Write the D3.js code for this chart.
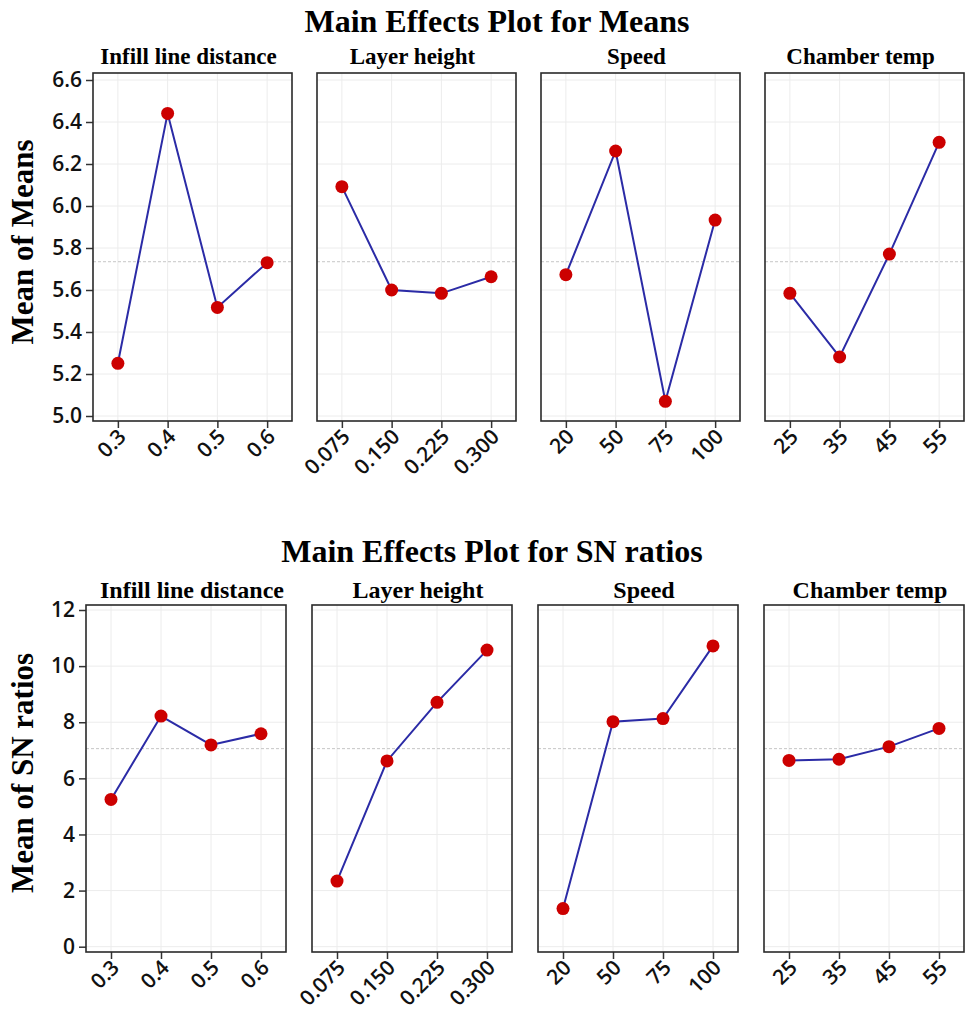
<!DOCTYPE html>
<html>
<head>
<meta charset="utf-8">
<script src="https://cdn.jsdelivr.net/npm/d3@7"></script>
<style>
  body { margin: 0; background: #fff; }
  svg { display: block; }
</style>
</head>
<body>
<div class="js-chart"></div>
<script>
'use strict';

// factors and their levels (same for both plots)
const factorNames = ["Infill line distance", "Layer height", "Speed", "Chamber temp"];
const levelLabels = [
    ["0.3", "0.4", "0.5", "0.6"],
    ["0.075", "0.150", "0.225", "0.300"],
    ["20", "50", "75", "100"],
    ["25", "35", "45", "55"]
];

// mean of means, one array per factor
const meansInfill = [5.251, 6.441, 5.517, 5.730];
const meansLayer = [6.092, 5.600, 5.584, 5.663];
const meansSpeed = [5.673, 6.262, 5.070, 5.933];
const meansChamber = [5.584, 5.281, 5.771, 6.303];
const meansTicks = [5.0, 5.2, 5.4, 5.6, 5.8, 6.0, 6.2, 6.4, 6.6];

// mean of SN ratios, one array per factor
const snInfill = [5.25, 8.22, 7.19, 7.59];
const snLayer = [2.34, 6.62, 8.71, 10.57];
const snSpeed = [1.36, 8.02, 8.13, 10.72];
const snChamber = [6.64, 6.68, 7.13, 7.78];
const snTicks = [0, 2, 4, 6, 8, 10, 12];

const svgWidth = 966;
const svgHeight = 1013;

const lineColor = "#2b2ba6";
const dotColor = "#cc0000";
const serif = "'Liberation Serif', 'Times New Roman', serif";
const sans = "'Open Sans', 'Noto Sans', sans-serif";

let svg = d3.select(".js-chart")
            .append("svg")
            .attr("width", svgWidth)
            .attr("height", svgHeight);

function drawMainEffects(opts) {

    const g = svg.append("g");

    // overall title
    g.append("text")
        .text(opts.title)
        .attr("x", opts.titleX)
        .attr("y", opts.titleY)
        .attr("text-anchor", "middle")
        .attr("font-family", serif)
        .attr("font-weight", "bold")
        .attr("font-size", opts.titleSize + "px")
        .attr("fill", "#000");

    // y axis label
    g.append("text")
        .text(opts.yLabel)
        .attr("transform", `translate(${opts.yLabelX},${opts.yLabelY}) rotate(-90)`)
        .attr("text-anchor", "middle")
        .attr("font-family", serif)
        .attr("font-weight", "bold")
        .attr("font-size", opts.yLabelSize + "px")
        .attr("fill", "#000");

    const yScale = d3.scaleLinear()
                    .domain(opts.yDomain)
                    .range([opts.yBottom, opts.yTop]);

    const grandMean = d3.mean(opts.series.flat());

    opts.series.forEach(function(values, i) {

        const left = opts.panelLefts[i];
        const right = left + opts.panelWidth;

        const xScale = d3.scalePoint()
                        .domain(levelLabels[i])
                        .range([left, right])
                        .padding(0.5);

        const panel = g.append("g");

        // panel title
        panel.append("text")
            .text(factorNames[i])
            .attr("x", (left + right) / 2 + opts.panelTitleShift)
            .attr("y", opts.panelTitleY)
            .attr("text-anchor", "middle")
            .attr("font-family", serif)
            .attr("font-weight", "bold")
            .attr("font-size", opts.panelTitleSize + "px")
            .attr("fill", "#000");

        // grid lines
        panel.selectAll("line.vgrid")
            .data(levelLabels[i])
            .enter()
            .append("line")
            .attr("x1", d => xScale(d))
            .attr("x2", d => xScale(d))
            .attr("y1", opts.panelTop)
            .attr("y2", opts.panelBottom)
            .attr("stroke", "#ececec")
            .attr("stroke-width", 1);

        panel.selectAll("line.hgrid")
            .data(opts.yTicks)
            .enter()
            .append("line")
            .attr("x1", left)
            .attr("x2", right)
            .attr("y1", d => yScale(d))
            .attr("y2", d => yScale(d))
            .attr("stroke", "#ececec")
            .attr("stroke-width", 1);

        // grand mean reference line
        panel.append("line")
            .attr("x1", left)
            .attr("x2", right)
            .attr("y1", yScale(grandMean))
            .attr("y2", yScale(grandMean))
            .attr("stroke", "#b8b8b8")
            .attr("stroke-width", 0.8)
            .attr("stroke-dasharray", "3,2");

        // x axis ticks and rotated labels
        const xAxis = d3.axisBottom(xScale).tickSize(7).tickPadding(0);
        const xg = panel.append("g")
            .attr("transform", `translate(0,${opts.panelBottom})`)
            .call(xAxis);
        xg.select(".domain").remove();
        xg.selectAll(".tick line").attr("stroke", "#333").attr("stroke-width", 1.5);
        xg.selectAll(".tick text")
            .attr("font-family", sans)
            .attr("font-size", opts.tickSize + "px")
            .attr("font-weight", 600)
            .attr("fill", "#111")
            .attr("text-anchor", "end")
            .attr("dy", null)
            .attr("y", null)
            .attr("transform", "translate(9,17) rotate(-45)");

        // y axis only on the first panel
        if (i === 0) {
            const yAxis = d3.axisLeft(yScale)
                            .tickValues(opts.yTicks)
                            .tickFormat(opts.tickFormat)
                            .tickSize(7)
                            .tickPadding(4);
            const yg = panel.append("g")
                .attr("transform", `translate(${left},0)`)
                .call(yAxis);
            yg.select(".domain").remove();
            yg.selectAll(".tick line").attr("stroke", "#333").attr("stroke-width", 1.5);
            yg.selectAll(".tick text")
                .attr("font-family", sans)
                .attr("font-size", opts.tickSize + "px")
                .attr("font-weight", 600)
                .attr("fill", "#111");
        }

        // panel frame
        panel.append("rect")
            .attr("x", left)
            .attr("y", opts.panelTop)
            .attr("width", opts.panelWidth)
            .attr("height", opts.panelBottom - opts.panelTop)
            .attr("fill", "none")
            .attr("stroke", "#2a2a2a")
            .attr("stroke-width", 1.6);

        // effect line
        const line = d3.line()
                        .x((d, j) => xScale(levelLabels[i][j]))
                        .y(d => yScale(d));

        panel.append("path")
            .datum(values)
            .attr("d", line)
            .attr("fill", "none")
            .attr("stroke", lineColor)
            .attr("stroke-width", 2);

        panel.selectAll("circle")
            .data(values)
            .enter()
            .append("circle")
            .attr("cx", (d, j) => xScale(levelLabels[i][j]))
            .attr("cy", d => yScale(d))
            .attr("r", 6.5)
            .attr("fill", dotColor);
    });
}

drawMainEffects({
    title: "Main Effects Plot for Means",
    titleX: 497,
    titleY: 32,
    titleSize: 32,
    yLabel: "Mean of Means",
    yLabelX: 33,
    yLabelY: 242,
    yLabelSize: 31,
    series: [meansInfill, meansLayer, meansSpeed, meansChamber],
    yTicks: meansTicks,
    tickFormat: d3.format(".1f"),
    yDomain: [5.0, 6.6],
    yBottom: 416,
    yTop: 80,
    panelLefts: [93, 317, 541, 765],
    panelWidth: 199,
    panelTop: 73,
    panelBottom: 421,
    panelTitleY: 64,
    panelTitleSize: 23,
    panelTitleShift: -4,
    tickSize: 21
});

drawMainEffects({
    title: "Main Effects Plot for SN ratios",
    titleX: 492,
    titleY: 562,
    titleSize: 32,
    yLabel: "Mean of SN ratios",
    yLabelX: 33,
    yLabelY: 773,
    yLabelSize: 31,
    series: [snInfill, snLayer, snSpeed, snChamber],
    yTicks: snTicks,
    tickFormat: d3.format("d"),
    yDomain: [0, 12],
    yBottom: 946.7,
    yTop: 610,
    panelLefts: [86, 312, 538, 764],
    panelWidth: 200,
    panelTop: 605,
    panelBottom: 952,
    panelTitleY: 598,
    panelTitleSize: 24,
    panelTitleShift: 6,
    tickSize: 21
});
</script>
</body>
</html>
